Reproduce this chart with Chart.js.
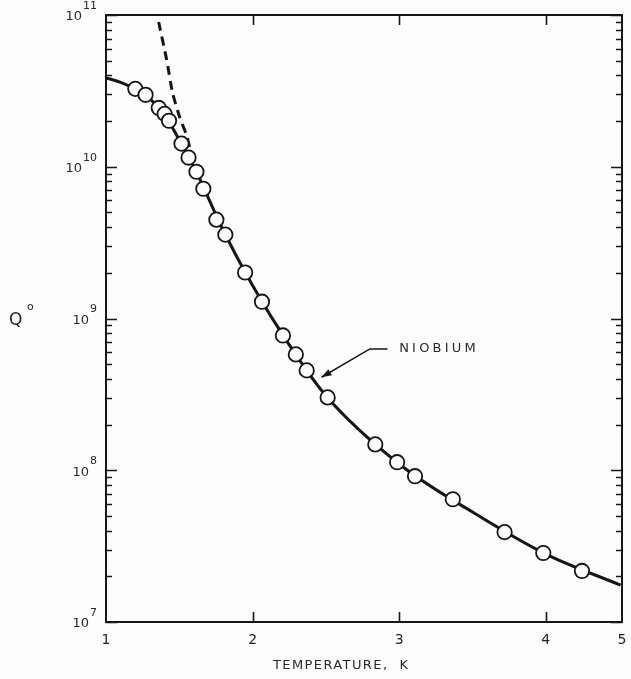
<!DOCTYPE html>
<html>
<head>
<meta charset="utf-8">
<script src="https://cdn.jsdelivr.net/npm/chart.js@4"></script>
<style>
  html, body { margin: 0; padding: 0; background: #fdfdfd; overflow: hidden; }
  #wrap { width: 631px; height: 679px; }
</style>
</head>
<body>
<div id="wrap"><canvas id="chart" width="631" height="679"></canvas></div>
<script>
// measured points (temperature K, Q0)
const tempK = [1.20, 1.27, 1.36, 1.40, 1.43, 1.515, 1.563, 1.617, 1.664, 1.753, 1.814,
  1.949, 2.064, 2.207, 2.295, 2.369, 2.512, 2.837, 2.986, 3.108, 3.366, 3.719, 3.983, 4.247];
const qMeasured = [3.26e10, 2.98e10, 2.44e10, 2.23e10, 2.01e10, 1.42e10, 1.15e10, 9.27e9, 7.16e9, 4.48e9, 3.57e9,
  2.01e9, 1.29e9, 7.73e8, 5.80e8, 4.55e8, 3.02e8, 1.48e8, 1.13e8, 9.14e7, 6.44e7, 3.91e7, 2.85e7, 2.17e7];

// solid fitted curve
const curveT = [1.0, 1.1, 1.2, 1.3, 1.4, 1.5, 1.6, 1.8, 2.0, 2.25, 2.5, 3.0, 3.5, 4.0, 4.51];
const curveQ = [3.85e10, 3.6e10, 3.25e10, 2.8e10, 2.2e10, 1.5e10, 1.0e10, 3.8e9, 1.65e9, 6.7e8, 3.1e8, 1.1e8, 5.3e7, 2.8e7, 1.75e7];

// dashed curve
const dashT = [1.359, 1.414, 1.454, 1.502, 1.549, 1.57];
const dashQ = [9.0e10, 5.06e10, 3.07e10, 2.13e10, 1.62e10, 1.35e10];

// axis ticks
const xTicks = [1, 2, 3, 4, 4.52];
const xTickLabels = ['1', '2', '3', '4', '5'];
const yDecades = [1e7, 1e8, 1e9, 1e10, 1e11];
const yExponents = ['7', '8', '9', '10', '11'];

const ink = '#161616';

const toXY = (xs, ys) => xs.map((x, i) => ({ x: x, y: ys[i] }));

// y tick values: decades plus 2..9 minors
const yTickValues = [];
yDecades.forEach((d, i) => {
  yTickValues.push(d);
  if (i < yDecades.length - 1) {
    for (let m = 2; m <= 9; m++) yTickValues.push(d * m);
  }
});

const frameTicks = {
  id: 'frameTicks',
  afterDraw(chart) {
    const { ctx, chartArea: a, scales: { x, y } } = chart;
    ctx.save();
    ctx.strokeStyle = ink;
    ctx.lineWidth = 2;
    ctx.strokeRect(a.left, a.top, a.right - a.left, a.bottom - a.top);

    ctx.lineWidth = 1.6;
    ctx.beginPath();
    yTickValues.forEach(v => {
      const py = Math.round(y.getPixelForValue(v)) + 0.5;
      const len = yDecades.includes(v) ? 11 : 6;
      ctx.moveTo(a.left, py); ctx.lineTo(a.left + len, py);
      ctx.moveTo(a.right, py); ctx.lineTo(a.right - len, py);
    });
    [2, 3, 4].forEach(v => {
      const px = Math.round(x.getPixelForValue(v)) + 0.5;
      ctx.moveTo(px, a.bottom); ctx.lineTo(px, a.bottom - 10);
      ctx.moveTo(px, a.top); ctx.lineTo(px, a.top + 10);
    });
    ctx.stroke();

    // x tick labels
    ctx.fillStyle = '#222';
    ctx.font = '14px "DejaVu Sans"';
    ctx.textAlign = 'center';
    ctx.textBaseline = 'middle';
    xTicks.forEach((v, i) => {
      ctx.fillText(xTickLabels[i], x.getPixelForValue(v), a.bottom + 18);
    });

    // y tick labels 10^n
    ctx.fillStyle = '#2a2a2a';
    yDecades.forEach((d, i) => {
      const py = y.getPixelForValue(d);
      const ex = yExponents[i];
      ctx.font = '11px "DejaVu Sans"';
      const ew = ctx.measureText(ex).width;
      ctx.textAlign = 'left';
      ctx.fillText(ex, 97 - ew, py - 9);
      ctx.font = '13px "DejaVu Sans"';
      ctx.textAlign = 'right';
      ctx.fillText('10', 96 - ew, py + 2);
    });

    // NIOBIUM label with leader arrow
    const tip = { x: x.getPixelForValue(2.47), y: y.getPixelForValue(4.1e8) };
    const elbow = { x: x.getPixelForValue(2.80), y: y.getPixelForValue(6.3e8) };
    const lineEnd = { x: x.getPixelForValue(2.92), y: elbow.y };
    ctx.lineWidth = 1.5;
    ctx.beginPath();
    ctx.moveTo(lineEnd.x, lineEnd.y);
    ctx.lineTo(elbow.x, elbow.y);
    ctx.lineTo(tip.x, tip.y);
    ctx.stroke();
    const ang = Math.atan2(tip.y - elbow.y, tip.x - elbow.x);
    ctx.fillStyle = ink;
    ctx.beginPath();
    ctx.moveTo(tip.x, tip.y);
    ctx.lineTo(tip.x - 10 * Math.cos(ang) + 3.5 * Math.sin(ang), tip.y - 10 * Math.sin(ang) - 3.5 * Math.cos(ang));
    ctx.lineTo(tip.x - 10 * Math.cos(ang) - 3.5 * Math.sin(ang), tip.y - 10 * Math.sin(ang) + 3.5 * Math.cos(ang));
    ctx.closePath();
    ctx.fill();

    ctx.fillStyle = '#2a2a2a';
    ctx.font = '13px "DejaVu Sans"';
    ctx.letterSpacing = '3.2px';
    ctx.textAlign = 'left';
    ctx.fillText('NIOBIUM', x.getPixelForValue(3.0), elbow.y);

    // axis titles
    ctx.font = '13px "DejaVu Sans"';
    ctx.letterSpacing = '1.4px';
    ctx.fillText('TEMPERATURE,  K', 273, 666);

    ctx.letterSpacing = '0px';
    ctx.font = '17px "DejaVu Sans"';
    ctx.fillText('Q', 9, 321);
    ctx.font = '11px "DejaVu Sans"';
    ctx.fillText('o', 27, 307);
    ctx.restore();
  }
};

new Chart(document.getElementById('chart'), {
  type: 'scatter',
  data: {
    datasets: [
      {
        label: 'measured',
        data: toXY(tempK, qMeasured),
        pointRadius: 7.2,
        pointBorderWidth: 1.8,
        pointBackgroundColor: '#fdfdfd',
        pointBorderColor: ink,
        showLine: false
      },
      {
        label: 'fit',
        data: toXY(curveT, curveQ),
        showLine: true,
        borderColor: ink,
        borderWidth: 3,
        pointRadius: 0,
        cubicInterpolationMode: 'monotone'
      },
      {
        label: 'dashed',
        data: toXY(dashT, dashQ),
        showLine: true,
        borderColor: ink,
        borderWidth: 3,
        borderDash: [9, 6],
        pointRadius: 0,
        tension: 0.2
      }
    ]
  },
  options: {
    responsive: false,
    animation: false,
    layout: { padding: { top: 15, right: 6, left: 0, bottom: 0 } },
    plugins: { legend: { display: false }, tooltip: { enabled: false } },
    scales: {
      x: {
        type: 'linear',
        min: 1,
        max: 4.52,
        grid: { display: false, drawTicks: false },
        border: { display: false },
        afterBuildTicks: (s) => { s.ticks = xTicks.map(v => ({ value: v })); },
        afterFit: (s) => { s.height = 57; },
        ticks: { display: false }
      },
      y: {
        type: 'logarithmic',
        min: 1e7,
        max: 1e11,
        grid: { display: false, drawTicks: false },
        border: { display: false },
        afterBuildTicks: (s) => { s.ticks = yTickValues.map(v => ({ value: v })); },
        afterFit: (s) => { s.width = 106; },
        ticks: { display: false }
      }
    }
  },
  plugins: [frameTicks]
});
</script>
</body>
</html>
